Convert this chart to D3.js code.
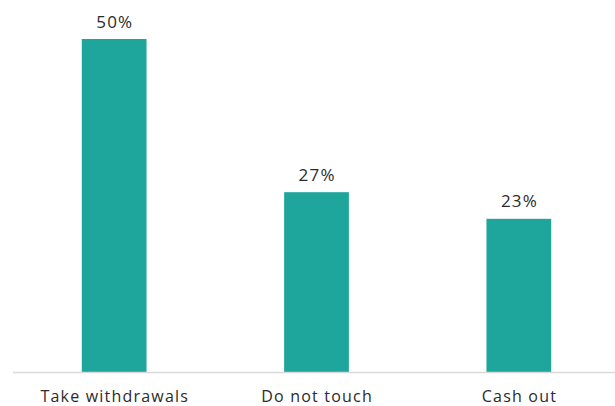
<!DOCTYPE html>
<html>
<head>
<meta charset="utf-8">
<script src="https://cdn.jsdelivr.net/npm/d3@7"></script>
<style>
  html, body { margin: 0; padding: 0; background: #fff; }
  svg { display: block; }
  text { font-family: "Open Sans", Lato, sans-serif; fill: #2b2b2b; letter-spacing: 1.2px; }
</style>
</head>
<body>
<svg id="chart" width="615" height="406"></svg>
<script>
const categories = ["Take withdrawals", "Do not touch", "Cash out"];
const values = [50, 27, 23];
const valueLabels = ["50%", "27%", "23%"];

const svg = d3.select("#chart");
const baseY = 372;
const topY = 39;

const x = d3.scaleBand()
  .domain(categories)
  .range([13, 620])
  .paddingInner(0.68)
  .paddingOuter(0.34);

const y = d3.scaleLinear()
  .domain([0, 50])
  .range([baseY, topY]);

svg.selectAll("rect.bar")
  .data(values)
  .join("rect")
  .attr("class", "bar")
  .attr("x", (d, i) => x(categories[i]))
  .attr("width", x.bandwidth())
  .attr("y", d => y(d))
  .attr("height", d => baseY - y(d))
  .attr("fill", "#1ea59c");

// baseline
svg.append("line")
  .attr("x1", 13).attr("x2", 615)
  .attr("y1", baseY + 0.5).attr("y2", baseY + 0.5)
  .attr("stroke", "#d9d9d9")
  .attr("stroke-width", 1.5);

svg.selectAll("text.val")
  .data(values)
  .join("text")
  .attr("class", "val")
  .attr("x", (d, i) => x(categories[i]) + x.bandwidth() / 2 + 0.6)
  .attr("y", d => y(d) - 11.5)
  .attr("text-anchor", "middle")
  .attr("font-size", 17)
  .text((d, i) => valueLabels[i]);

svg.selectAll("text.cat")
  .data(categories)
  .join("text")
  .attr("class", "cat")
  .attr("x", d => x(d) + x.bandwidth() / 2 + 0.6)
  .attr("y", 402)
  .attr("text-anchor", "middle")
  .attr("font-size", 16)
  .text(d => d);
</script>
</body>
</html>
